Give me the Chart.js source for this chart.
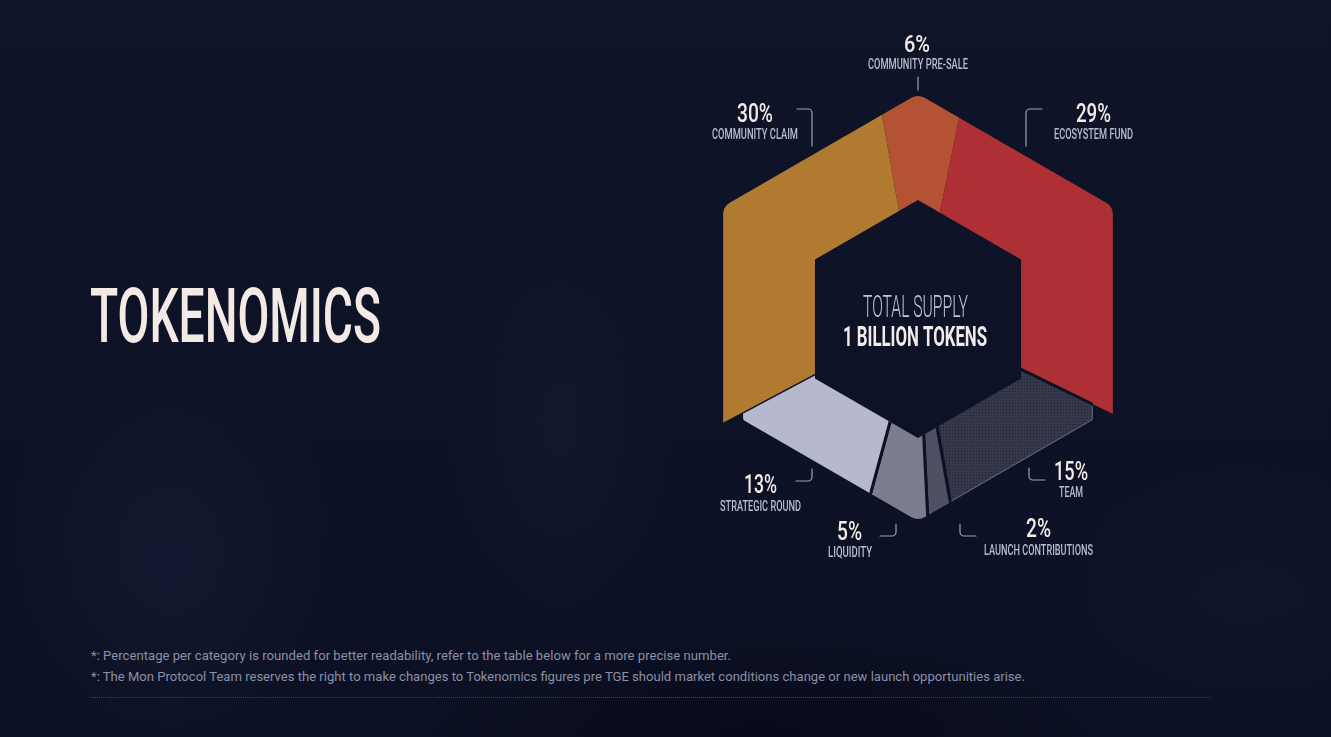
<!DOCTYPE html>
<html>
<head>
<meta charset="utf-8">
<script src="https://cdn.jsdelivr.net/npm/chart.js@4.4.1/dist/chart.umd.min.js"></script>
<style>
html,body{margin:0;padding:0;width:1331px;height:737px;overflow:hidden;}
body{position:relative;font-family:Roboto,"Noto Sans",sans-serif;background-color:#0e1227;
 background-image:
  radial-gradient(ellipse 240px 300px at 170px 560px, rgba(32,40,70,0.30), rgba(0,0,0,0) 70%),
  radial-gradient(ellipse 160px 300px at 560px 430px, rgba(30,38,66,0.25), rgba(0,0,0,0) 70%),
  radial-gradient(ellipse 520px 160px at 760px 737px, rgba(4,6,18,0.55), rgba(0,0,0,0) 70%),
  radial-gradient(ellipse 300px 200px at 1250px 600px, rgba(26,32,58,0.25), rgba(0,0,0,0) 70%),
  linear-gradient(#0f1429, #0c1024);}
#title{position:absolute;left:90px;top:278px;font:500 76px/76px Roboto,sans-serif;color:#f3eae5;white-space:nowrap;transform-origin:0 0;margin:0;}
.note{position:absolute;left:91px;font:400 13.5px/13.5px Roboto,sans-serif;color:#8b90a5;white-space:nowrap;transform-origin:0 0;margin:0;}
#n1{top:649px;}
#n2{top:670px;}
#rule{position:absolute;left:91px;top:697px;width:1119px;height:0;border-top:1px dotted rgba(130,136,160,0.45);}
#c{position:absolute;left:0;top:0;}
</style>
</head>
<body>
<h1 id="title">TOKENOMICS</h1>
<p class="note" id="n1">*: Percentage per category is rounded for better readability, refer to the table below for a more precise number.</p>
<p class="note" id="n2">*: The Mon Protocol Team reserves the right to make changes to Tokenomics figures pre TGE should market conditions change or new launch opportunities arise.</p>
<div id="rule"></div>
<canvas id="c" width="1331" height="737"></canvas>
<script>
// ---- data ----
const categories = ['COMMUNITY PRE-SALE', 'ECOSYSTEM FUND', 'TEAM', 'LAUNCH CONTRIBUTIONS', 'LIQUIDITY', 'STRATEGIC ROUND', 'COMMUNITY CLAIM'];
const shares = [6, 29, 15, 2, 5, 13, 30];
const centerLines = ['TOTAL SUPPLY', '1 BILLION TOKENS'];

// ---- styles / layout ----
const BG = '#0d1125';
function makeDots() {
  const c = document.createElement('canvas'); c.width = 3; c.height = 3;
  const g = c.getContext('2d');
  g.fillStyle = '#35384a'; g.fillRect(0, 0, 3, 3);
  g.fillStyle = '#1f2232'; g.fillRect(1, 1, 1, 1);
  return g.createPattern(c, 'repeat');
}
const teamFill = makeDots();
const segColors = ['#b35333', '#ad3034', teamFill, '#4e5163', '#7b7d8f', '#b6b9cd', '#b07a31'];
const segBorder = [0, 0, 3, 3, 3, 3, 0];
const outerR = [225, 225, 202, 202, 202, 202, 225];
const innerR = 119;
// corner rounding per vertex: top, upper-right, lower-right, bottom, lower-left, upper-left
const cornerR = [14, 14, 3, 14, 3, 14];
const noRound = [0, 0, 0, 0, 0, 0];

// label layout: offsets from chart centre [dx, baselineDy, width]
const labelLayout = [
  {pct: [-1, -267, 26, 24], name: [0, -250, 100], line: [[0, -242], [0, -229]]},
  {pct: [175.5, -197, 35, 26.7], name: [175.5, -180.5, 79], line: [[124, -210], [108, -210], [108, -173]]},
  {pct: [153, 161, 34, 26.7], name: [153, 178, 24], line: [[111, 149], [111, 161], [127, 161]]},
  {pct: [120.5, 218, 25, 26.7], name: [120.5, 236, 109], line: [[42, 205], [42, 217], [58, 217]]},
  {pct: [-68.5, 221, 25, 26.7], name: [-68, 238, 44], line: [[-38, 217], [-22, 217], [-22, 205]]},
  {pct: [-157.5, 174, 33, 26.7], name: [-157.5, 192, 81], line: [[-122, 162], [-106, 162], [-106, 150]]},
  {pct: [-163, -197, 36, 26.7], name: [-163, -180.5, 86], line: [[-121, -210], [-106, -210], [-106, -173]]}
];
const centerLayout = [
  {dx: -2.5, dy: -2, w: 105, font: '300 31px Roboto', color: '#c3c5d6'},
  {dx: -3, dy: 26.5, w: 144, font: '700 27.5px Roboto', color: '#f2ebe7'}
];

function hexPath(ctx, cx, cy, R, rc) {
  const pts = [];
  for (let k = 0; k < 6; k++) {
    const a = (-90 + 60 * k) * Math.PI / 180;
    pts.push([cx + R * Math.cos(a), cy + R * Math.sin(a)]);
  }
  ctx.moveTo((pts[5][0] + pts[0][0]) / 2, (pts[5][1] + pts[0][1]) / 2);
  for (let k = 0; k < 6; k++) {
    const p = pts[k], n = pts[(k + 1) % 6];
    if (rc[k] > 0) ctx.arcTo(p[0], p[1], n[0], n[1], rc[k]); else ctx.lineTo(p[0], p[1]);
  }
  ctx.closePath();
}

const hexPlugin = {
  id: 'hexRing',
  beforeDatasetDraw(chart, args) {
    const ctx = chart.ctx;
    args.meta.data.forEach((arc, i) => {
      const p = arc.getProps(['x', 'y', 'startAngle', 'endAngle'], true);
      ctx.save();
      ctx.beginPath();
      hexPath(ctx, p.x, p.y, outerR[i], cornerR);
      hexPath(ctx, p.x, p.y, innerR, noRound);
      ctx.clip('evenodd');
      arc.draw(ctx);
      if (segColors[i] === teamFill) {
        ctx.beginPath(); ctx.moveTo(p.x, p.y);
        ctx.arc(p.x, p.y, 400, p.startAngle + 0.01, p.endAngle - 0.005); ctx.closePath(); ctx.clip();
        ctx.beginPath(); hexPath(ctx, p.x, p.y, outerR[i] - 0.6, cornerR);
        ctx.strokeStyle = '#5a5f77'; ctx.lineWidth = 1.4; ctx.stroke();
      }
      ctx.restore();
    });
    return false;
  }
};

function fitText(ctx, text, x, y, w, font, color) {
  ctx.save();
  ctx.font = font;
  const m = ctx.measureText(text).width;
  ctx.translate(x, y);
  ctx.scale(w / m, 1);
  ctx.textAlign = 'center';
  ctx.textBaseline = 'alphabetic';
  ctx.fillStyle = color;
  ctx.fillText(text, 0, 0);
  ctx.restore();
}

function bracket(ctx, pts, r) {
  ctx.beginPath();
  ctx.moveTo(pts[0][0], pts[0][1]);
  for (let k = 1; k < pts.length - 1; k++) ctx.arcTo(pts[k][0], pts[k][1], pts[k + 1][0], pts[k + 1][1], r);
  ctx.lineTo(pts[pts.length - 1][0], pts[pts.length - 1][1]);
  ctx.stroke();
}

const labelPlugin = {
  id: 'hexLabels',
  afterDatasetsDraw(chart) {
    const ctx = chart.ctx;
    const a0 = chart.getDatasetMeta(0).data[0];
    const cx = a0.x, cy = a0.y;
    shares.forEach((v, i) => {
      const L = labelLayout[i];
      fitText(ctx, v + '%', cx + L.pct[0], cy + L.pct[1], L.pct[2], '500 ' + L.pct[3] + 'px Roboto', '#f2ebe7');
      fitText(ctx, categories[i], cx + L.name[0], cy + L.name[1], L.name[2], '500 15.5px Roboto', '#b9bdcd');
      ctx.save();
      ctx.strokeStyle = '#9da1b4'; ctx.lineWidth = 1.2; ctx.lineCap = 'round';
      bracket(ctx, L.line.map(q => [cx + q[0], cy + q[1]]), 4);
      ctx.restore();
    });
    centerLines.forEach((t, k) => {
      const C = centerLayout[k];
      fitText(ctx, t, cx + C.dx, cy + C.dy, C.w, C.font, C.color);
    });
  }
};

new Chart(document.getElementById('c'), {
  type: 'doughnut',
  data: {
    labels: categories,
    datasets: [{
      data: shares,
      backgroundColor: segColors,
      borderColor: BG,
      borderWidth: segBorder,
      borderJoinStyle: 'miter',
      hoverOffset: 0
    }]
  },
  options: {
    responsive: false,
    animation: false,
    devicePixelRatio: 1,
    rotation: -10,
    cutout: '30%',
    layout: {padding: {left: 668, right: 163, top: 69, bottom: 168}},
    plugins: {legend: {display: false}, tooltip: {enabled: false}}
  },
  plugins: [hexPlugin, labelPlugin]
});

// fit HTML texts horizontally to the reference widths
(function () {
  const g = document.createElement('canvas').getContext('2d');
  function fit(id, font, w) {
    const el = document.getElementById(id);
    g.font = font;
    const m = g.measureText(el.textContent).width;
    el.style.transform = 'scaleX(' + (w / m) + ')';
  }
  fit('title', '500 76px Roboto', 291);
  fit('n1', '400 13.5px Roboto', 640);
  fit('n2', '400 13.5px Roboto', 935);
})();
</script>
</body>
</html>
